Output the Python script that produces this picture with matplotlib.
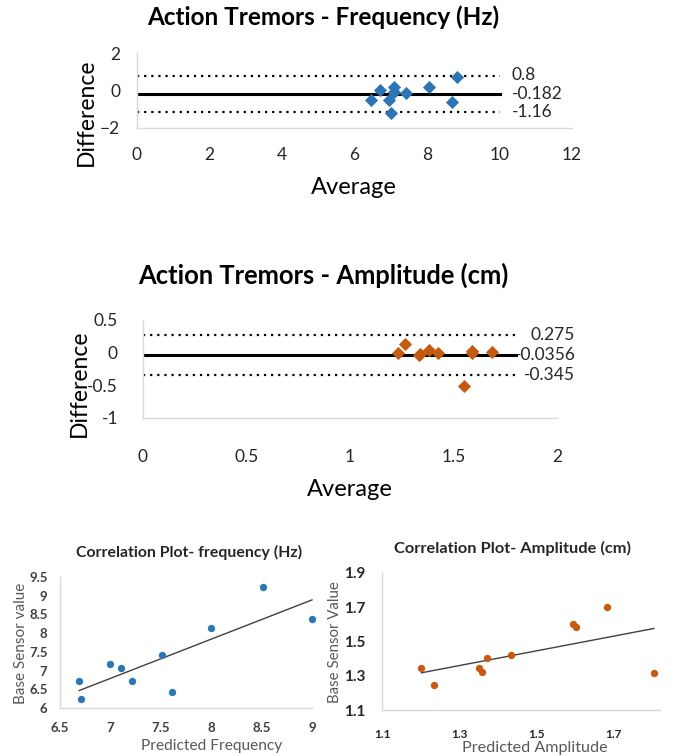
import numpy as np
import matplotlib
matplotlib.use("Agg")
import matplotlib.pyplot as plt

plt.rcParams['font.family'] = ['Lato', 'DejaVu Sans']

# ---- Data ----
# Bland-Altman: frequency
ba_freq_avg = [6.46, 6.69, 6.95, 7.00, 7.09, 7.09, 7.43, 8.05, 8.68, 8.83]
ba_freq_diff = [-0.48, 0.03, -0.51, -1.19, 0.17, -0.09, -0.12, 0.17, -0.61, 0.73]
ba_freq_mean = -0.182
ba_freq_upper = 0.8
ba_freq_lower = -1.16

# Bland-Altman: amplitude
ba_amp_avg = [1.232, 1.267, 1.335, 1.34, 1.38, 1.423, 1.552, 1.589, 1.59, 1.686]
ba_amp_diff = [0.0, 0.14, -0.04, -0.02, 0.04, -0.01, -0.51, -0.01, 0.02, 0.015]
ba_amp_mean = -0.0356
ba_amp_upper = 0.275
ba_amp_lower = -0.345

# Correlation: frequency
corr_freq_pred = [6.69, 6.71, 7.00, 7.11, 7.21, 7.51, 7.61, 8.00, 8.51, 9.00]
corr_freq_base = [6.71, 6.24, 7.18, 7.07, 6.71, 7.41, 6.42, 8.15, 9.24, 8.39]

# Correlation: amplitude
corr_amp_pred = [1.202, 1.234, 1.352, 1.359, 1.372, 1.434, 1.594, 1.603, 1.683, 1.804]
corr_amp_base = [1.346, 1.244, 1.348, 1.324, 1.406, 1.424, 1.603, 1.584, 1.701, 1.317]

BLUE = '#2E75B6'
ORANGE = '#C55A11'
SPINE = '#D9D9D9'

W, H = 673, 756
fig = plt.figure(figsize=(W / 100, H / 100), dpi=100)


def add_ax(l, t, r, b):
    return fig.add_axes([l / W, 1 - b / H, (r - l) / W, (b - t) / H])


def style(ax):
    for s in ['top', 'right']:
        ax.spines[s].set_visible(False)
    for s in ['left', 'bottom']:
        ax.spines[s].set_color(SPINE)
        ax.spines[s].set_linewidth(1.0)
    ax.tick_params(length=0)


def fmt(v):
    return ('%g' % v)


# ---- Top: Frequency Bland-Altman ----
ax1 = add_ax(137, 53, 572, 128)
style(ax1)
ax1.set_xlim(0, 12)
ax1.set_ylim(-2, 2)
ax1.set_xticks(np.arange(0, 13, 2))
ax1.set_yticks([-2, 0, 2])
ax1.tick_params(axis='x', pad=14, labelsize=12.5, labelcolor='#262626')
ax1.tick_params(axis='y', pad=12, labelsize=12.5, labelcolor='#262626')
ax1.plot([0, 10], [ba_freq_mean] * 2, color='black', lw=2.2, zorder=2)
for v in (ba_freq_upper, ba_freq_lower):
    ax1.plot([0, 10], [v] * 2, color='black', lw=1.6, ls=(0, (1, 2.2)), zorder=2)
ax1.scatter(ba_freq_avg, ba_freq_diff, marker='D', s=45, color=BLUE, zorder=3, linewidths=0)
for v in (ba_freq_upper, ba_freq_mean, ba_freq_lower):
    ax1.annotate(fmt(v), xy=(10, v), xytext=(9, 0), textcoords='offset points',
                 va='center', ha='left', fontsize=12.5, color='#262626', annotation_clip=False)
fig.text(323 / W, 1 - 17 / H, 'Action Tremors - Frequency (Hz)', ha='center', va='center',
         fontsize=17.5, fontweight='bold')
fig.text(86 / W, 1 - 112 / H, 'Difference', rotation=90, ha='center', va='center', fontsize=16.5)
fig.text(354 / W, 1 - 187 / H, 'Average', ha='center', va='center', fontsize=17)

# ---- Middle: Amplitude Bland-Altman ----
ax2 = add_ax(143, 320, 557, 418)
style(ax2)
ax2.set_xlim(0, 2)
ax2.set_ylim(-1, 0.5)
ax2.set_xticks([0, 0.5, 1, 1.5, 2])
ax2.set_xticklabels(['0', '0.5', '1', '1.5', '2'])
ax2.set_yticks([-1, -0.5, 0, 0.5])
ax2.set_yticklabels(['-1', '-0.5', '0', '0.5'])
ax2.tick_params(axis='x', pad=22, labelsize=12.5, labelcolor='#262626')
ax2.tick_params(axis='y', pad=18, labelsize=12.5, labelcolor='#262626')
ax2.plot([0, 1.8], [ba_amp_mean] * 2, color='black', lw=2.2, zorder=2)
for v in (ba_amp_upper, ba_amp_lower):
    ax2.plot([0, 1.8], [v] * 2, color='black', lw=1.6, ls=(0, (1, 2.2)), zorder=2)
ax2.scatter(ba_amp_avg, ba_amp_diff, marker='D', s=45, color=ORANGE, zorder=3, linewidths=0)
for v in (ba_amp_upper, ba_amp_mean, ba_amp_lower):
    ax2.annotate(fmt(v), xy=(1.8, v), xytext=(43, 0), textcoords='offset points',
                 va='center', ha='right', fontsize=12.5, color='#262626', annotation_clip=False)
fig.text(323 / W, 1 - 275 / H, 'Action Tremors - Amplitude (cm)', ha='center', va='center',
         fontsize=18.4, fontweight='bold')
fig.text(79 / W, 1 - 383 / H, 'Difference', rotation=90, ha='center', va='center', fontsize=16.5)
fig.text(350 / W, 1 - 489 / H, 'Average', ha='center', va='center', fontsize=17)

# ---- Bottom left: Correlation frequency ----
ax3 = add_ax(60, 577, 312, 708)
style(ax3)
ax3.set_xlim(6.5, 9)
ax3.set_ylim(6, 9.5)
ax3.set_xticks([6.5, 7, 7.5, 8, 8.5, 9])
ax3.set_xticklabels(['6.5', '7', '7.5', '8', '8.5', '9'])
ax3.set_yticks([6, 6.5, 7, 7.5, 8, 8.5, 9, 9.5])
ax3.set_yticklabels(['6', '6.5', '7', '7.5', '8', '8.5', '9', '9.5'])
for lab in ax3.get_xticklabels() + ax3.get_yticklabels():
    lab.set_fontweight('bold')
ax3.tick_params(axis='x', pad=10, labelsize=9.5, labelcolor='#404040')
ax3.tick_params(axis='y', pad=9, labelsize=9.5, labelcolor='#404040')
ax3.scatter(corr_freq_pred, corr_freq_base, s=28, color=BLUE, zorder=3, linewidths=0, clip_on=False)
m, c = np.polyfit(corr_freq_pred, corr_freq_base, 1)
xs = np.array([min(corr_freq_pred), max(corr_freq_pred)])
ax3.plot(xs, m * xs + c, color='#404040', lw=1.0, zorder=2, clip_on=False)
fig.text(189 / W, 1 - 552 / H, 'Correlation Plot- frequency (Hz)', ha='center', va='center',
         fontsize=11.4, fontweight='bold', color='#262626')
fig.text(21 / W, 1 - 643 / H, 'Base Sensor value', rotation=90, ha='center', va='center',
         fontsize=11, color='#595959')
fig.text(212 / W, 1 - 746 / H, 'Predicted Frequency', ha='center', va='center',
         fontsize=11.2, color='#595959')

# ---- Bottom right: Correlation amplitude ----
ax4 = add_ax(382, 573, 660, 710)
style(ax4)
ax4.set_xlim(1.1, 1.82)
ax4.set_ylim(1.1, 1.9)
ax4.set_xticks([1.1, 1.3, 1.5, 1.7])
ax4.set_xticklabels(['1.1', '1.3', '1.5', '1.7'])
ax4.set_yticks([1.1, 1.3, 1.5, 1.7, 1.9])
ax4.set_yticklabels(['1.1', '1.3', '1.5', '1.7', '1.9'])
for lab in ax4.get_xticklabels() + ax4.get_yticklabels():
    lab.set_fontweight('bold')
ax4.tick_params(axis='x', pad=14, labelsize=8.5, labelcolor='#262626')
ax4.tick_params(axis='y', pad=12, labelsize=11, labelcolor='#262626')
ax4.scatter(corr_amp_pred, corr_amp_base, s=28, color=ORANGE, zorder=3, linewidths=0, clip_on=False)
m2, c2 = np.polyfit(corr_amp_pred, corr_amp_base, 1)
xs2 = np.array([min(corr_amp_pred), max(corr_amp_pred)])
ax4.plot(xs2, m2 * xs2 + c2, color='#404040', lw=1.0, zorder=2, clip_on=False)
fig.text(512 / W, 1 - 548 / H, 'Correlation Plot- Amplitude (cm)', ha='center', va='center',
         fontsize=11.8, fontweight='bold', color='#262626')
fig.text(335 / W, 1 - 642 / H, 'Base Sensor Value', rotation=90, ha='center', va='center',
         fontsize=10.8, color='#595959')
fig.text(535 / W, 1 - 748 / H, 'Predicted Amplitude', ha='center', va='center',
         fontsize=11.6, color='#595959')

fig.savefig('out.png', dpi=100)
